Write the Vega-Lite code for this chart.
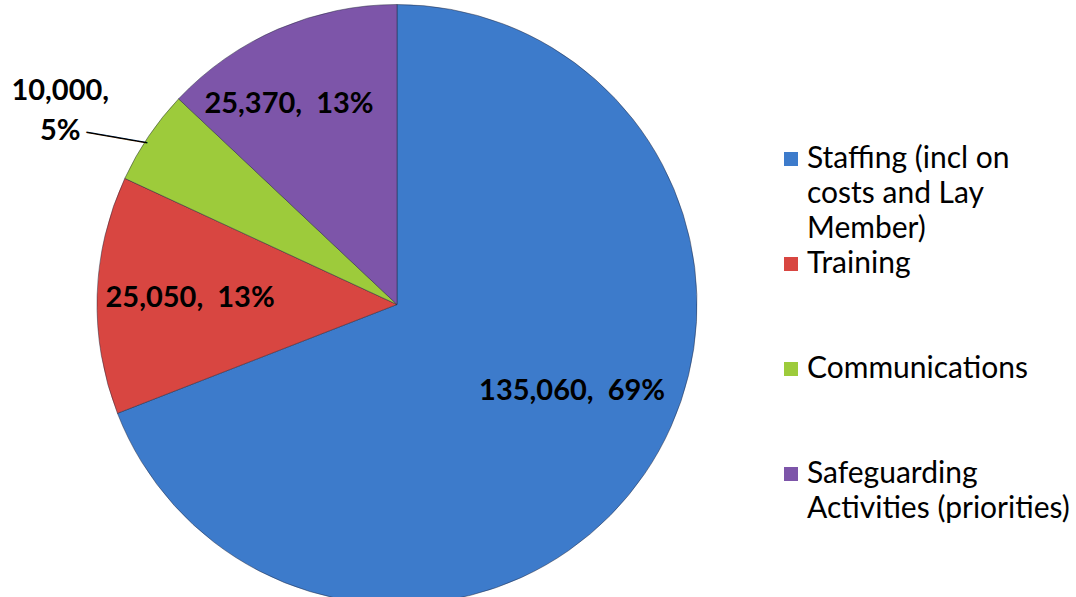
{
  "$schema": "https://vega.github.io/schema/vega-lite/v6.json",
  "width": 600,
  "height": 585,
  "autosize": {"type": "none"},
  "padding": {"left": 97, "top": 12, "right": 379, "bottom": 0},
  "background": "white",
  "config": {"view": {"stroke": null}, "style": {"guide-label": {"lineHeight": 35}}},
  "data": {"values": [
    {"category": "Staffing (incl on costs and Lay Member)", "value": 135060},
    {"category": "Training", "value": 25050},
    {"category": "Communications", "value": 10000},
    {"category": "Safeguarding Activities (priorities)", "value": 25370}
  ]},
  "transform": [
    {"window": [{"op": "row_number", "as": "idx"}]},
    {"joinaggregate": [{"op": "sum", "field": "value", "as": "total"}]},
    {"calculate": "format(datum.value, ',') + ',\u00a0 ' + format(datum.value / datum.total, '.0%')", "as": "label"},
    {"calculate": "[format(datum.value, ',') + ',', format(datum.value / datum.total, '.0%')]", "as": "label2"}
  ],
  "encoding": {
    "theta": {"field": "value", "type": "quantitative", "stack": true},
    "order": {"field": "idx", "type": "quantitative"}
  },
  "layer": [
    {
      "mark": {"type": "arc", "outerRadius": 300, "stroke": "#22263a", "strokeWidth": 0.8, "strokeOpacity": 0.6},
      "encoding": {
        "color": {
          "field": "category", "type": "nominal",
          "scale": {
            "domain": ["Staffing (incl on costs and Lay Member)", "Training", "Communications", "Safeguarding Activities (priorities)"],
            "range": ["#3D7BCB", "#D84641", "#9DCB3B", "#7D55A9"]
          },
          "legend": {
            "orient": "none", "legendX": 679, "legendY": 132, "title": null,
            "symbolType": "square", "symbolSize": 196, "symbolStrokeWidth": 0,
            "labelFont": "Lato", "labelFontSize": 30, "labelColor": "black", "labelLimit": 400,
            "labelBaseline": "middle", "labelOffset": 1, "rowPadding": 5, "gridAlign": "all",
            "labelExpr": "datum.label == 'Staffing (incl on costs and Lay Member)' ? ['Staffing (incl on', 'costs and Lay', 'Member)'] : datum.label == 'Safeguarding Activities (priorities)' ? ['Safeguarding', 'Activities (priorities)'] : datum.label"
          }
        }
      }
    },
    {
      "mark": {"type": "text", "radius": 200, "dx": 10, "dy": -26, "font": "Lato", "fontWeight": "bold", "fontSize": 29, "fill": "black"},
      "encoding": {
        "detail": {"field": "category"},
        "text": {"condition": {"test": "datum.category == 'Staffing (incl on costs and Lay Member)'", "field": "label"}, "value": ""}
      }
    },
    {
      "mark": {"type": "text", "radius": 207, "dx": 0, "dy": 0, "font": "Lato", "fontWeight": "bold", "fontSize": 29, "fill": "black"},
      "encoding": {
        "detail": {"field": "category"},
        "text": {"condition": {"test": "datum.category == 'Training'", "field": "label"}, "value": ""}
      }
    },
    {
      "mark": {"type": "text", "radius": 222, "dx": -20, "dy": 3, "font": "Lato", "fontWeight": "bold", "fontSize": 29, "fill": "black"},
      "encoding": {
        "detail": {"field": "category"},
        "text": {"condition": {"test": "datum.category == 'Safeguarding Activities (priorities)'", "field": "label"}, "value": ""}
      }
    },
    {
      "mark": {"type": "text", "radius": 380, "dx": -22, "dy": -1, "font": "Lato", "fontWeight": "bold", "fontSize": 29, "lineHeight": 40, "fill": "black"},
      "encoding": {
        "detail": {"field": "category"},
        "text": {"condition": {"test": "datum.category == 'Communications'", "field": "label2"}, "value": ""}
      }
    },
    {
      "mark": {"type": "text", "radius": 380, "dx": 42, "dy": 40, "angle": 10, "font": "DejaVu Sans Mono", "fontSize": 17, "fill": "black"},
      "encoding": {
        "detail": {"field": "category"},
        "text": {"condition": {"test": "datum.category == 'Communications'", "value": "\u2500\u2500\u2500\u2500\u2500\u2500"}, "value": ""}
      }
    }
  ]
}
